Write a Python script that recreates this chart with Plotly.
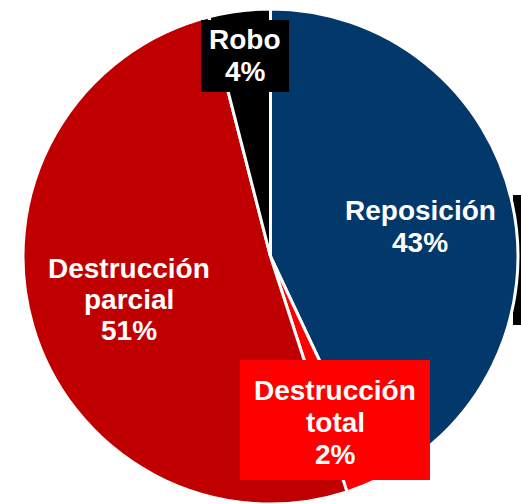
import plotly.graph_objects as go

categories = ["Reposición", "Destrucción total", "Destrucción parcial", "Robo"]
values = [43, 2, 51, 4]
colors = ["#02386A", "#FF0000", "#C00000", "#000000"]

W, H = 521, 504

fig = go.Figure(go.Pie(
    labels=categories,
    values=values,
    sort=False,
    direction="clockwise",
    rotation=0,
    marker=dict(colors=colors, line=dict(color="white", width=3)),
    textinfo="none",
    hoverinfo="label+percent",
    domain=dict(x=[22 / W, 519 / W], y=[0, 1 - 9 / H]),
    showlegend=False,
))

def px(x, y):
    return x / W, 1 - y / H

# label layout: (center x, first line y, line step, box or None)
layout_spec = {
    "Reposición": (420, 210, 32, None),
    "Destrucción total": (335, 390, 32, (240, 360, 430, 480)),
    "Destrucción parcial": (129, 268, 31, None),
    "Robo": (245, 40, 32, (201, 20, 289, 92)),
}

shapes = []
annotations = []
for name, val, col in zip(categories, values, colors):
    cx, y0, step, box = layout_spec[name]
    if box is not None:
        x0b, y0b, x1b, y1b = box
        shapes.append(dict(type="rect", xref="paper", yref="paper",
                           x0=x0b / W, x1=x1b / W, y0=1 - y1b / H, y1=1 - y0b / H,
                           fillcolor=col, line=dict(width=0), layer="above"))
    lines = name.split(" ") + [f"{val}%"]
    for i, ln in enumerate(lines):
        ax, ay = px(cx, y0 + i * step)
        annotations.append(dict(
            x=ax, y=ay, xref="paper", yref="paper", text=f"<b>{ln}</b>",
            showarrow=False, xanchor="center", yanchor="middle",
            font=dict(family="Arial, Liberation Sans, sans-serif", size=28, color="white"),
        ))

# black strip at the right edge
shapes.append(dict(type="rect", xref="paper", yref="paper",
                   x0=513 / W, x1=1.0, y0=1 - 325 / H, y1=1 - 195 / H,
                   fillcolor="black", line=dict(width=0), layer="below"))

fig.update_layout(
    width=W, height=H,
    margin=dict(l=0, r=0, t=0, b=0),
    paper_bgcolor="white",
    plot_bgcolor="white",
    shapes=shapes,
    annotations=annotations,
)

fig.write_html(
    "out.html",
    config={"displayModeBar": False},
    post_script="document.body.style.margin='0';document.body.style.overflow='hidden';",
)
